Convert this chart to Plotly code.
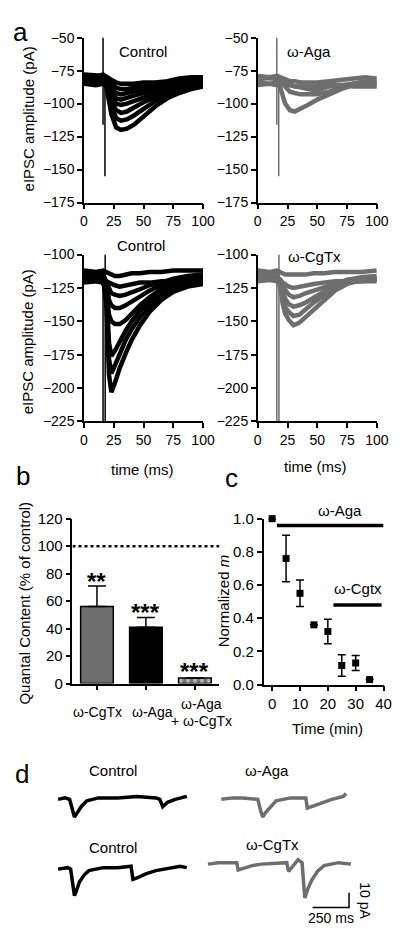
import plotly.graph_objects as go

W, H = 400, 929
FONT = "Liberation Sans, Arial, sans-serif"
BLACK = "#000000"
GRAY = "#6e6e6e"

# ---------------- panel a data ----------------
t_top = [0, 10, 16, 19, 23, 27, 31, 36, 42, 50, 60, 70, 80, 90, 100]
control_top = [
    [-82, -83, -82, -88, -108, -118, -120, -119, -116, -110, -102, -96, -92, -89, -87],
    [-80, -81, -80, -85, -102, -111, -113, -112, -109, -104, -98, -93, -90, -88, -85],
    [-84, -82, -83, -86, -98, -105, -107, -106, -103, -99, -95, -91, -89, -86, -86],
    [-78, -79, -79, -84, -94, -100, -101, -100, -98, -95, -92, -89, -86, -84, -82],
    [-85, -86, -85, -86, -91, -96, -97, -96, -94, -92, -90, -88, -87, -86, -85],
    [-81, -80, -81, -83, -88, -92, -93, -92, -91, -89, -88, -86, -85, -83, -83],
    [-83, -82, -83, -82, -85, -88, -89, -89, -88, -87, -86, -85, -84, -82, -82],
    [-79, -80, -78, -80, -82, -84, -85, -85, -85, -84, -84, -83, -81, -80, -80],
]
aga_top = [
    [-82, -80, -82, -88, -100, -105, -106, -104, -101, -97, -93, -89, -86, -84, -84],
    [-80, -81, -80, -83, -88, -91, -92, -93, -93, -93, -91, -88, -85, -83, -83],
    [-84, -85, -84, -83, -85, -86, -87, -88, -89, -90, -87, -86, -85, -85, -86],
    [-79, -80, -79, -80, -82, -83, -83, -84, -84, -84, -83, -82, -81, -80, -81],
    [-86, -85, -86, -85, -86, -86, -87, -87, -87, -87, -86, -86, -87, -87, -87],
]
artifact_top_t = [16, 16, None, 17.6, 17.6]
artifact_top_v = [-50, -116, None, -78, -155]

t_mid = [0, 10, 16, 19, 21, 23, 26, 30, 35, 40, 47, 55, 65, 75, 87, 100]
control_mid = [
    [-117, -116, -117, -140, -190, -203, -196, -185, -174, -164, -153, -143, -134, -128, -124, -122],
    [-114, -115, -114, -136, -178, -189, -183, -174, -164, -156, -147, -139, -131, -126, -122, -120],
    [-120, -119, -120, -132, -166, -176, -172, -165, -157, -150, -142, -135, -128, -124, -121, -120],
    [-113, -114, -113, -128, -145, -150, -152, -152, -149, -144, -138, -132, -126, -122, -119, -117],
    [-118, -117, -118, -124, -134, -138, -140, -140, -138, -135, -131, -127, -123, -120, -119, -119],
    [-115, -116, -115, -121, -126, -129, -130, -131, -130, -128, -126, -123, -121, -118, -116, -115],
    [-121, -120, -121, -120, -121, -122, -123, -124, -123, -122, -121, -121, -120, -120, -121, -121],
    [-112, -113, -112, -113, -114, -115, -116, -116, -115, -114, -114, -113, -113, -112, -112, -112],
]
cgtx_mid = [
    [-116, -115, -116, -125, -137, -144, -149, -153, -151, -147, -141, -134, -127, -122, -119, -118],
    [-118, -117, -118, -123, -133, -139, -143, -146, -145, -141, -136, -131, -125, -121, -120, -119],
    [-114, -115, -114, -121, -128, -133, -137, -139, -138, -136, -132, -128, -123, -119, -117, -116],
    [-117, -118, -117, -119, -124, -127, -130, -132, -131, -129, -127, -124, -121, -119, -118, -118],
    [-120, -119, -120, -119, -121, -122, -124, -125, -124, -123, -122, -121, -120, -120, -120, -120],
    [-112, -113, -112, -113, -114, -115, -115, -115, -115, -115, -114, -114, -113, -113, -113, -112],
]
artifact_mid_t = [16, 16, None, 17.8, 17.8]
artifact_mid_v = [-112, -230, None, -100, -230]

a_xticks = [0, 25, 50, 75, 100]
a_top_yticks = [-50, -75, -100, -125, -150, -175]
a_mid_yticks = [-100, -125, -150, -175, -200, -225]

# ---------------- panel b data ----------------
b_categories = ["ω-CgTx", "ω-Aga", "ω-Aga + ω-CgTx"]
b_values = [56, 41, 4]
b_err = [15, 7, 0]
b_stars = ["**", "***", "***"]
b_yticks = [0, 20, 40, 60, 80, 100, 120]
b_control_level = 100

# ---------------- panel c data ----------------
c_time = [0, 5, 10, 15, 20, 25, 30, 35]
c_m = [1.0, 0.76, 0.55, 0.36, 0.32, 0.115, 0.13, 0.03]
c_err = [0, 0.14, 0.08, 0, 0.074, 0.065, 0.045, 0]
c_aga_period = [1.7, 40]
c_aga_level = 0.958
c_cgtx_period = [22, 39.3]
c_cgtx_level = 0.48
c_xticks = [0, 10, 20, 30, 40]
c_yticks = [0.0, 0.2, 0.4, 0.6, 0.8, 1.0]

# ---------------- panel d data (ms, pA relative to baseline) ----------------
d_ctrl1_t = [0, 46, 79, 99, 112, 132, 158, 197, 276, 408, 540, 671, 697, 717, 750, 803, 882]
d_ctrl1_i = [0, 1, 0, -8, -12, -9, -5, -1, 1, 1, 2, 1, 0, -5, -2, 0, 2]
d_aga_t = [0, 79, 145, 250, 270, 283, 303, 329, 375, 474, 579, 589, 618, 671, 757, 836, 855]
d_aga_i = [0, 1, 1, 0, -8, -12, -9, -6, -1, 1, 1, -6, -5, -3, 0, 2, 4]
d_ctrl2_t = [0, 66, 86, 99, 112, 125, 145, 178, 211, 309, 408, 500, 513, 540, 605, 671, 770, 836, 882]
d_ctrl2_i = [0, 1, 0, -10, -18, -15, -9, -4, -1, 1, 1, 2, -7, -6, -3, -1, 1, 2, 1]
d_cgtx_t = [0, 72, 197, 207, 237, 303, 368, 540, 553, 579, 618, 645, 651, 664, 684, 711, 750, 796, 895, 980]
d_cgtx_i = [0, 1, 1, -4, -3, -1, 0, 1, -5, -2, 3, 1, -10, -23, -17, -11, -5, -1, 1, 0]
d_col_start = [0, 1119, 1027]       # ms offset of left column / right top / right bottom
d_row_base = [-31.3, -78.7, -75.3]  # baseline level of rows (pA)
d_scale_ms = 250
d_scale_pa = 10
d_scale_end = [1994, -104.7]


def dx(a, b):
    return [a / W, b / W]


def dy(top, bottom):
    return [1 - bottom / H, 1 - top / H]


fig = go.Figure()

TW = 4.5
# panel a traces
for sw in control_top:
    fig.add_trace(go.Scatter(x=t_top, y=sw, mode="lines", line=dict(color=BLACK, width=TW),
                             xaxis="x", yaxis="y"))
fig.add_trace(go.Scatter(x=artifact_top_t, y=artifact_top_v, mode="lines",
                         line=dict(color=BLACK, width=1.5), xaxis="x", yaxis="y"))
for sw in aga_top:
    fig.add_trace(go.Scatter(x=t_top, y=sw, mode="lines", line=dict(color=GRAY, width=TW),
                             xaxis="x2", yaxis="y2"))
fig.add_trace(go.Scatter(x=artifact_top_t, y=artifact_top_v, mode="lines",
                         line=dict(color=GRAY, width=1.5), xaxis="x2", yaxis="y2"))
for sw in control_mid:
    fig.add_trace(go.Scatter(x=t_mid, y=sw, mode="lines", line=dict(color=BLACK, width=TW),
                             xaxis="x3", yaxis="y3"))
fig.add_trace(go.Scatter(x=artifact_mid_t, y=artifact_mid_v, mode="lines",
                         line=dict(color=BLACK, width=1.5), xaxis="x3", yaxis="y3"))
for sw in cgtx_mid:
    fig.add_trace(go.Scatter(x=t_mid, y=sw, mode="lines", line=dict(color=GRAY, width=TW),
                             xaxis="x4", yaxis="y4"))
fig.add_trace(go.Scatter(x=artifact_mid_t, y=artifact_mid_v, mode="lines",
                         line=dict(color=GRAY, width=1.5), xaxis="x4", yaxis="y4"))

# panel b
fig.add_trace(go.Bar(
    x=[0, 1, 2], y=b_values, width=0.667,
    marker=dict(color=[GRAY, BLACK, GRAY], line=dict(color=BLACK, width=1.5),
                pattern=dict(shape=["", "", "|"], fgcolor=BLACK, size=7, solidity=0.5)),
    error_y=dict(type="data", array=b_err, arrayminus=[0, 0, 0], symmetric=False,
                 color=BLACK, thickness=1.5, width=9),
    xaxis="x5", yaxis="y5"))
fig.add_trace(go.Scatter(x=[-0.5, 2.5], y=[b_control_level] * 2, mode="lines",
                         line=dict(color=BLACK, width=2.5, dash="3px,3px"),
                         xaxis="x5", yaxis="y5"))

# panel c
fig.add_trace(go.Scatter(x=c_aga_period, y=[c_aga_level] * 2, mode="lines",
                         line=dict(color=BLACK, width=3.5), xaxis="x6", yaxis="y6"))
fig.add_trace(go.Scatter(x=c_cgtx_period, y=[c_cgtx_level] * 2, mode="lines",
                         line=dict(color=BLACK, width=3.5), xaxis="x6", yaxis="y6"))
fig.add_trace(go.Scatter(x=c_time, y=c_m, mode="markers",
                         marker=dict(symbol="square", size=7, color=BLACK),
                         error_y=dict(type="data", array=c_err, color=BLACK, thickness=1.5, width=4),
                         xaxis="x6", yaxis="y6", cliponaxis=False))

# panel d
d_sets = [
    (d_ctrl1_t, d_ctrl1_i, d_col_start[0], d_row_base[0], BLACK),
    (d_aga_t, d_aga_i, d_col_start[1], d_row_base[0], GRAY),
    (d_ctrl2_t, d_ctrl2_i, d_col_start[0], d_row_base[1], BLACK),
    (d_cgtx_t, d_cgtx_i, d_col_start[2], d_row_base[2], GRAY),
]
for tt, ii, x0, y0, col in d_sets:
    fig.add_trace(go.Scatter(x=[x0 + t for t in tt], y=[y0 + v for v in ii], mode="lines",
                             line=dict(color=col, width=3.5), xaxis="x7", yaxis="y7"))
sx, sy = d_scale_end
fig.add_trace(go.Scatter(x=[sx - d_scale_ms, sx, sx], y=[sy, sy, sy + d_scale_pa], mode="lines",
                         line=dict(color=BLACK, width=1.5), xaxis="x7", yaxis="y7"))

# ---------------- layout ----------------
tickfont = dict(family=FONT, size=14, color=BLACK)


def ax(domain, rng, tickvals, **kw):
    d = dict(domain=domain, range=rng, tickvals=tickvals, showline=True, linecolor=BLACK,
             linewidth=1.5, ticks="outside", ticklen=5, tickwidth=1.5, tickcolor=BLACK,
             showgrid=False, zeroline=False, tickfont=tickfont, fixedrange=True)
    d.update(kw)
    return d


layout = dict(
    width=W, height=H, margin=dict(l=0, r=0, t=0, b=0), showlegend=False,
    paper_bgcolor="white", plot_bgcolor="white",
    font=dict(family=FONT, color=BLACK),
    xaxis=ax(dx(75, 199), [0, 100], a_xticks, anchor="y"),
    yaxis=ax(dy(21, 189), [-175, -50], a_top_yticks, anchor="x"),
    xaxis2=ax(dx(256, 380), [0, 100], a_xticks, anchor="y2"),
    yaxis2=ax(dy(21, 189), [-175, -50], a_top_yticks, anchor="x2"),
    xaxis3=ax(dx(75, 199), [0, 100], a_xticks, anchor="y3"),
    yaxis3=ax(dy(242, 412), [-225, -100], a_mid_yticks, anchor="x3"),
    xaxis4=ax(dx(256, 380), [0, 100], a_xticks, anchor="y4"),
    yaxis4=ax(dy(242, 412), [-225, -100], a_mid_yticks, anchor="x4"),
    xaxis5=ax(dx(63, 216), [-0.5, 2.5], [0, 1, 2], anchor="y5", showticklabels=False),
    yaxis5=ax(dy(511, 679), [0, 120], b_yticks, anchor="x5",
              tickfont=dict(family=FONT, size=15, color=BLACK)),
    xaxis6=ax(dx(262, 387), [-3.1, 40], c_xticks, anchor="y6",
              tickfont=dict(family=FONT, size=15, color=BLACK)),
    yaxis6=ax(dy(511, 680), [0, 1.0], c_yticks, anchor="x6", tickformat=".1f",
              tickfont=dict(family=FONT, size=15, color=BLACK)),
    xaxis7=dict(domain=[0, 1], range=[-316, 2316], visible=False, fixedrange=True),
    yaxis7=dict(domain=dy(750, 925), range=[-116.7, 0], visible=False, fixedrange=True, anchor="x7"),
)
fig.update_layout(**layout)


def note(text, px, py, size=15, angle=0):
    fig.add_annotation(text=text, x=px / W, y=1 - py / H, xref="paper", yref="paper",
                       xanchor="center", yanchor="middle",
                       showarrow=False, textangle=angle,
                       font=dict(family=FONT, size=size, color=BLACK))


# panel letters
note("a", 9, 15, size=26)
note("b", 11, 468, size=26)
note("c", 229, 470, size=26)
note("d", 10, 771, size=26)

# panel a labels
note("Control", 136, 35)
note("ω-Aga", 309, 35)
note("Control", 134, 233)
note("ω-CgTx", 315, 244)
note("eIPSC amplitude (pA)", 17, 104, angle=-90)
note("eIPSC amplitude (pA)", 17, 331, angle=-90)
note("time (ms)", 136, 461)
note("time (ms)", 316, 458)

# panel b labels
note("Quantal Content (% of control)", 13, 597, angle=-90)
note("ω-CgTx", 89, 708, size=14)
note("ω-Aga", 146, 708, size=14)
note("ω-Aga", 197, 700, size=14)
note("+ ω-CgTx", 197, 717, size=14)
star_y = [575, 607, 667]
for i, s in enumerate(b_stars):
    fig.add_annotation(text="<b>" + s + "</b>", x=i, y=1 - star_y[i] / H, xref="x5", yref="paper",
                       xanchor="center", yanchor="middle",
                       showarrow=False, font=dict(family=FONT, size=24, color=BLACK))

# panel c labels
note("ω-Aga", 342, 503)
note("ω-Cgtx", 360, 582)
note("Normalized <i>m</i>", 220, 595, angle=-90)
note("Time (min)", 329, 725)

# panel d labels
note("Control", 105, 768)
note("Control", 105, 846)
note("ω-Aga", 266, 768)
note("ω-CgTx", 271, 843)
note("10 pA", 368, 900, size=14, angle=90)
note("250 ms", 332, 918, size=14)

fig.write_html("out.html")
